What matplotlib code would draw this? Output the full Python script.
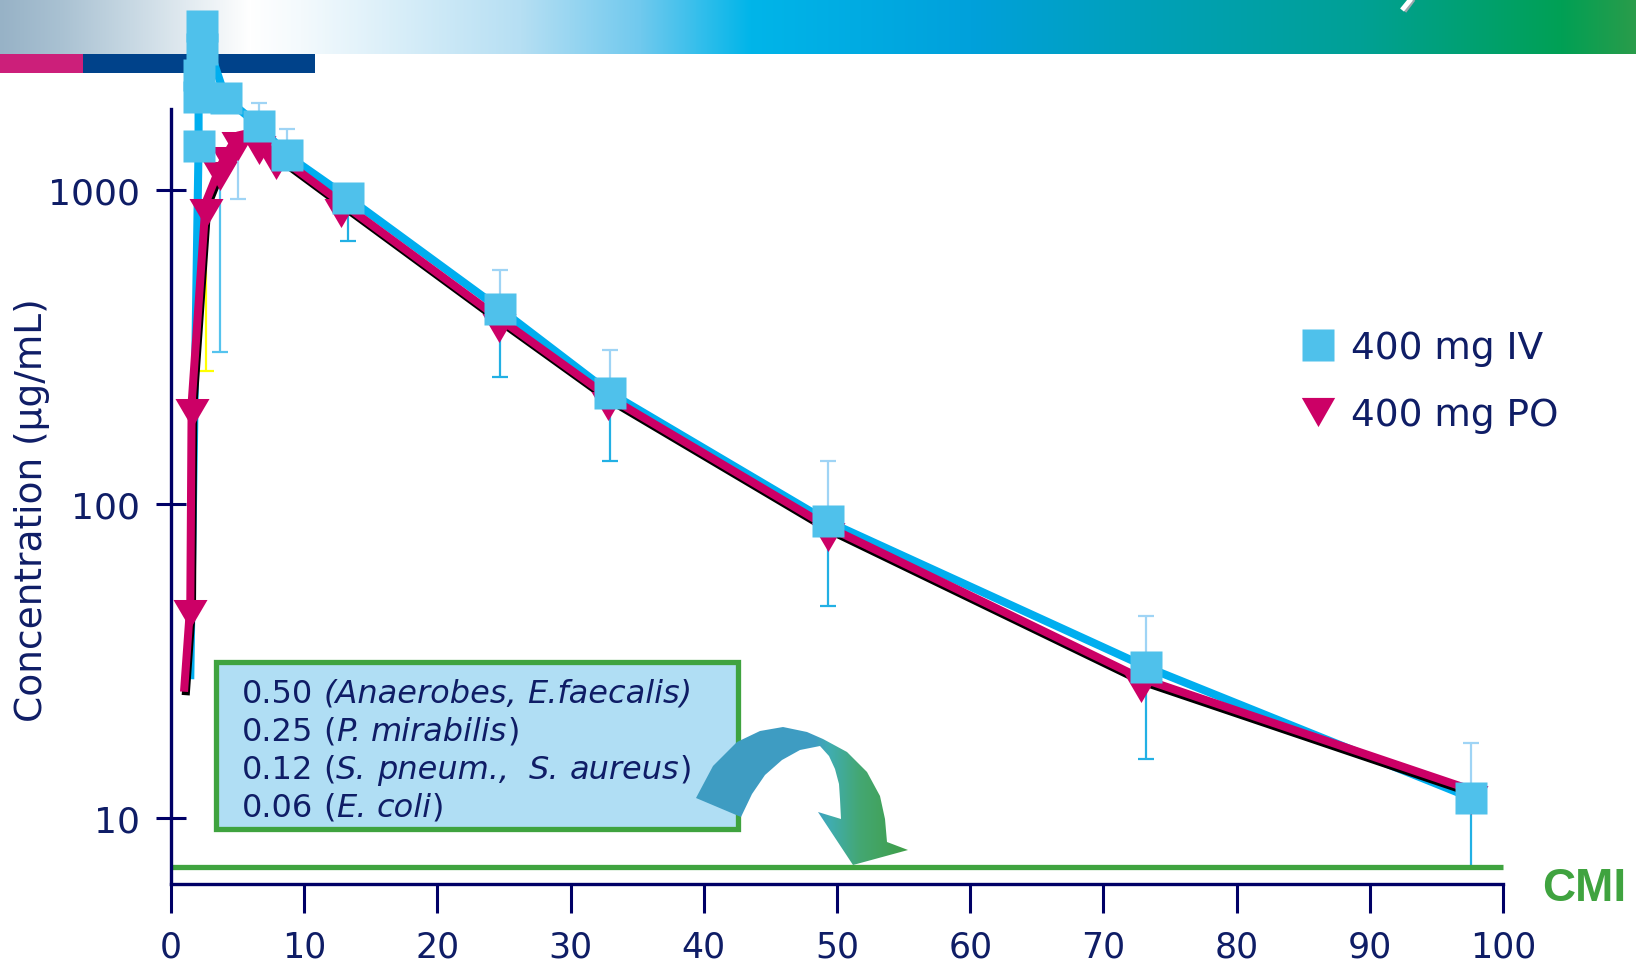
import numpy as np
import matplotlib
matplotlib.use("Agg")
import matplotlib.pyplot as plt
from matplotlib.lines import Line2D
from matplotlib.patches import Polygon, Rectangle
from matplotlib.ticker import NullLocator, FixedLocator
import matplotlib.patheffects as pe
from matplotlib.colors import to_rgb

nan = np.nan

# ---------------- data ----------------
# 400 mg IV (squares); first point is the line start without marker
iv_t = [1.45, 2.07, 2.07, 2.07, 2.3, 2.3, 4.1, 6.6, 8.7, 13.3, 24.7, 32.95, 49.3, 73.2, 97.6]
iv_c = [28.5, 1377, 1972, 2322, 2812, 3327, 1963, 1604, 1293, 944, 418, 226, 88, 30.3, 11.6]
iv_hi = [nan, nan, nan, nan, nan, nan, nan, 1893, 1563, nan, 556, 310, 137, 44, 17.3]
iv_lo = [nan, nan, nan, nan, nan, nan, nan, nan, nan, 688, 254, 137, 47.3, 15.4, 7.0]
iv_marked = [False] + [True] * 14

# 400 mg PO (triangles)
po_t = [1.0, 1.45, 1.55, 2.6, 3.7, 4.3, 5.0, 5.6, 6.6, 7.9, 12.8, 24.6, 32.8, 49.3, 72.8, 97.6]
po_c = [26, 48, 209, 911, 1190, 1329, 1490, 1510, 1447, 1297, 911, 391, 220, 84.7, 27.9, 12.3]
po_lo = [nan, nan, nan, 265, 305, nan, 936, nan, nan, nan, nan, nan, nan, nan, nan, nan]
po_marked = [False, True, True, True, True, True, True, False, True, True, True, True, True, True, True, True]

cmi_level = 7.0
x_ticks = [0, 10, 20, 30, 40, 50, 60, 70, 80, 90, 100]
y_ticks = [10, 100, 1000]
y_ticklabels = ["10", "100", "1000"]
legend_labels = ["400 mg IV", "400 mg PO"]
# MIC box lines: (text, italic) pieces
mic_lines = [
    [("0.50", False), (" (Anaerobes, E.faecalis)", True)],
    [("0.25 (", False), ("P. mirabilis", True), (")", False)],
    [("0.12 (", False), ("S. pneum.,  S. aureus", True), (")", False)],
    [("0.06 (", False), ("E. coli", True), (")", False)],
]

# ---------------- style ----------------
W, H = 1636, 962
NAVY = "#000066"
TXT = "#0f1d66"
CYAN_LINE = "#00aeef"
CYAN_SQ = "#4fc1eb"
MAGENTA = "#cc0066"
GREEN = "#3fa33f"
ERR_UP = "#9fd4f5"
ERR_LO = "#22b0e4"
po_err_colors = {3: "#ffff00", 4: "#55c3ee", 6: "#9fd4f5"}

plt.rcParams["font.family"] = ["DejaVu Sans"]

fig = plt.figure(figsize=(W / 100, H / 100), dpi=100)
fig.patch.set_facecolor("white")

# ---------------- header band ----------------
HB = 55
hdr = fig.add_axes([0, 1 - HB / H, 1, HB / H], zorder=0)
stops = [(0, "#97b2c6"), (60, "#a9c1d2"), (130, "#c7d8e3"), (250, "#ffffff"),
         (300, "#f4fafd"), (520, "#b6dff3"), (640, "#70c9ee"), (750, "#00b5e9"),
         (970, "#00a1db"), (1150, "#00a0b8"), (1360, "#00a095"), (1560, "#00a055"),
         (1636, "#2a9c4a")]
xs = np.arange(W)
sp = np.array([s[0] for s in stops])
cols = np.array([to_rgb(s[1]) for s in stops])
grad = np.stack([np.interp(xs, sp, cols[:, k]) for k in range(3)], axis=-1)
img = np.repeat(grad[None, :, :], 10, axis=0)
hdr.imshow(img, aspect="auto", extent=[0, W, HB, 0])
hdr.set_xlim(0, W); hdr.set_ylim(HB, 0)
hdr.axis("off")
fig.add_artist(Rectangle((0, 1 - 74 / H), 83 / W, 19 / H, transform=fig.transFigure,
                         facecolor="#cc1f7a", edgecolor="none", zorder=0.5))
fig.add_artist(Rectangle((83 / W, 1 - 74 / H), 232 / W, 19 / H, transform=fig.transFigure,
                         facecolor="#00428a", edgecolor="none", zorder=0.5))

# ---------------- main axes ----------------
ax = fig.add_axes([171 / W, 1 - 885 / H, (1503 - 171) / W, (885 - 110) / H], zorder=2)
ax.set_yscale("log")
ax.set_xlim(0, 100)
ax.set_ylim(6.164, 1811)
for s in ["top", "right"]:
    ax.spines[s].set_visible(False)
for s in ["left", "bottom"]:
    ax.spines[s].set_color(NAVY)
    ax.spines[s].set_linewidth(2.4)
ax.xaxis.set_major_locator(FixedLocator(x_ticks))
ax.set_xticklabels([str(v) for v in x_ticks])
ax.yaxis.set_major_locator(FixedLocator(y_ticks))
ax.yaxis.set_minor_locator(NullLocator())
ax.set_yticklabels(y_ticklabels)
ax.tick_params(axis="y", direction="inout", length=22, width=2.2, color=NAVY,
               labelsize=26, labelcolor=TXT, pad=11)
ax.tick_params(axis="x", direction="out", length=21, width=2.2, color=NAVY,
               labelsize=25, labelcolor=TXT, pad=12)

shadow = [pe.SimpleLineShadow(offset=(1.2, -2.5), shadow_color="black", alpha=1.0), pe.Normal()]

# CMI line
ax.plot([0, 100], [cmi_level, cmi_level], color=GREEN, lw=3.8, clip_on=False, zorder=2.4,
        solid_capstyle="butt")

# error bars
def draw_err(t, c, bound, color):
    ax.vlines(t, c, bound, color=color, lw=1.6, zorder=2.2, clip_on=False)
    ax.plot([t], [bound], marker="_", ms=12, mew=1.6, color=color, zorder=2.2, clip_on=False)

for t, c, hi, lo in zip(iv_t, iv_c, iv_hi, iv_lo):
    if not np.isnan(hi):
        draw_err(t, c, hi, ERR_UP)
    if not np.isnan(lo):
        draw_err(t, c, lo, ERR_LO)
for i, (t, c, lo) in enumerate(zip(po_t, po_c, po_lo)):
    if not np.isnan(lo):
        draw_err(t, c, lo, po_err_colors.get(i, ERR_LO))

# lines
ax.plot(iv_t, iv_c, color=CYAN_LINE, lw=5.8, zorder=3, clip_on=False,
        solid_joinstyle="round")
ax.plot(po_t, po_c, color=MAGENTA, lw=5.8, zorder=3.5, clip_on=False,
        solid_joinstyle="round", path_effects=shadow)

# downward triangle anchored near its top edge (line passes just under the top edge)
tri_plot = [(-0.694, 0.184), (0.694, 0.184), (0.0, -1.0)]
tri_leg = [(-1, 0.875), (1, 0.875), (0, -0.875)]
po_mt = [t for t, m in zip(po_t, po_marked) if m]
po_mc = [c for c, m in zip(po_c, po_marked) if m]
ax.plot(po_mt, po_mc, ls="none", marker=tri_plot, ms=35.3, color=MAGENTA, mec="none",
        zorder=4, clip_on=False)
iv_mt = [t for t, m in zip(iv_t, iv_marked) if m]
iv_mc = [c for c, m in zip(iv_c, iv_marked) if m]
ax.plot(iv_mt, iv_mc, ls="none", marker="s", ms=23.5, color=CYAN_SQ, mec="none",
        zorder=5, clip_on=False)

# legend
handles = [Line2D([], [], ls="none", marker="s", ms=23.5, color=CYAN_SQ, mec="none"),
           Line2D([], [], ls="none", marker=tri_leg, ms=24, color=MAGENTA, mec="none")]
leg = ax.legend(handles, legend_labels, loc="upper left",
                bbox_to_anchor=(1299 / W, 1 - 331 / H), bbox_transform=fig.transFigure,
                frameon=False, fontsize=27, handlelength=1.0, handletextpad=0.38,
                labelspacing=0.84, borderpad=0, borderaxespad=0, labelcolor=TXT)

# y label
fig.text(32 / W, 1 - 510 / H, "Concentration (µg/mL)", rotation=90, ha="center",
         va="center", fontsize=27, color=TXT)

# ---------------- overlay: MIC box, arrow, CMI text ----------------
ov = fig.add_axes([0, 0, 1, 1], zorder=3)
ov.set_xlim(0, W); ov.set_ylim(H, 0)
ov.axis("off")
ov.patch.set_alpha(0)

ov.add_patch(Rectangle((216, 663), 522, 167, facecolor="#b0def4", edgecolor=GREEN, lw=3.8))

renderer = fig.canvas.get_renderer()
BOX_FS = 23
space_px = 0.318 * BOX_FS * 100 / 72
for pieces, base in zip(mic_lines, [703, 741, 779, 817]):
    x = 242
    for s, it in pieces:
        words = s.split(" ")
        for k, word in enumerate(words):
            if k > 0:
                x += space_px
            if word:
                t = ov.text(x, base, word, fontsize=BOX_FS, color=TXT, ha="left",
                            va="baseline", style="italic" if it else "normal")
                x = t.get_window_extent(renderer).x1

outer = [(696, 799), (713, 767), (737, 743), (760, 732), (783, 728), (807, 733),
         (823, 740), (847, 753), (867, 773), (880, 797), (885, 820), (887, 843)]
head = [(908, 851), (853, 866), (818, 813)]
inner = [(841, 820), (840, 800), (839, 785), (835, 770), (829, 757), (820, 747),
         (800, 751), (782, 761), (765, 776), (752, 795), (741, 818)]
arrow = Polygon(outer + head + inner, closed=True, facecolor="none", edgecolor="none")
ov.add_patch(arrow)
gx = np.linspace(690, 910, 220)
gstops = [(690, "#3e9cc2"), (815, "#3e9cc2"), (830, "#40adb0"), (860, "#44a773"),
          (910, "#3f9e45")]
gp = np.array([s[0] for s in gstops])
gc = np.array([to_rgb(s[1]) for s in gstops])
ag = np.stack([np.interp(gx, gp, gc[:, k]) for k in range(3)], axis=-1)
aimg = np.repeat(ag[None, :, :], 10, axis=0)
im = ov.imshow(aimg, extent=[690, 910, 870, 720], aspect="auto", zorder=4)
im.set_clip_path(arrow)
ov.set_xlim(0, W); ov.set_ylim(H, 0)

ov.text(1542, 889, "CMI", color=GREEN, fontsize=33, fontweight="bold",
        family=["Liberation Sans", "DejaVu Sans"], ha="left", va="center")

# small logo stroke in header
ov.plot([1413, 1404], [0, 12], color="#9aa7ad", lw=4, solid_capstyle="butt", zorder=5)
ov.plot([1411, 1402], [0, 11], color="white", lw=3.5, solid_capstyle="butt", zorder=5)

fig.savefig("out.png", dpi=100, facecolor="white")
